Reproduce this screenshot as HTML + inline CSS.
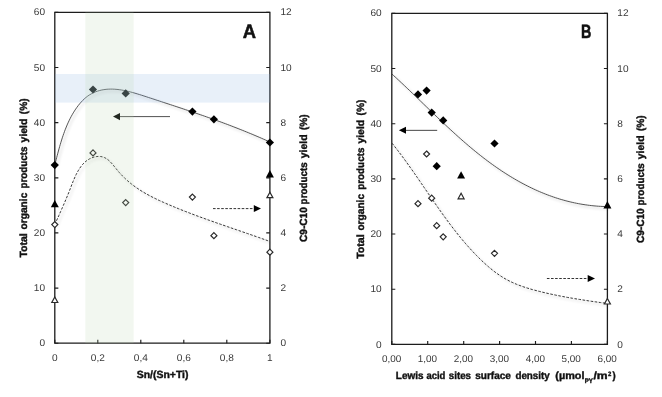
<!DOCTYPE html><html><head><meta charset="utf-8"><title>chart</title>
<style>html,body{margin:0;padding:0;background:#fff}svg{display:block;will-change:transform}text{font-family:"Liberation Sans",sans-serif;text-rendering:geometricPrecision}.t{font-size:9.8px;fill:#383838}.b{font-weight:bold;fill:#111;font-size:10.4px;stroke:#111;stroke-width:0.4px}</style></head><body>
<svg width="662" height="397" viewBox="0 0 662 397">
<defs><filter id="sh" x="-5%" y="-5%" width="110%" height="115%"><feGaussianBlur in="SourceAlpha" stdDeviation="1.6"/><feOffset dx="1.5" dy="2.4"/><feComponentTransfer><feFuncA type="linear" slope="0.24"/></feComponentTransfer><feMerge><feMergeNode/><feMergeNode in="SourceGraphic"/></feMerge></filter></defs>
<rect width="662" height="397" fill="#fff"/>
<path d="M54.8,12.3 H269.9 V343.2 H54.8 Z" fill="none" stroke="#1c1c1c" stroke-width="1.3"/>
<path d="M54.75,343.2 h3.6 M269.85,343.2 h-3.6 M54.75,288.1 h3.6 M269.85,288.1 h-3.6 M54.75,232.9 h3.6 M269.85,232.9 h-3.6 M54.75,177.8 h3.6 M269.85,177.8 h-3.6 M54.75,122.6 h3.6 M269.85,122.6 h-3.6 M54.75,67.5 h3.6 M269.85,67.5 h-3.6 M54.75,12.3 h3.6 M269.85,12.3 h-3.6 M54.8,343.2 v-3.5 M97.8,343.2 v-3.5 M140.8,343.2 v-3.5 M183.8,343.2 v-3.5 M226.8,343.2 v-3.5 M269.9,343.2 v-3.5" stroke="#1c1c1c" stroke-width="1.15" fill="none"/>
<text class="t" transform="translate(45.0,346.3) scale(1.03,1)" text-anchor="end">0</text>
<text class="t" transform="translate(280.4,346.3) scale(1.03,1)" text-anchor="start">0</text>
<text class="t" transform="translate(45.0,291.2) scale(1.03,1)" text-anchor="end">10</text>
<text class="t" transform="translate(280.4,291.2) scale(1.03,1)" text-anchor="start">2</text>
<text class="t" transform="translate(45.0,236.0) scale(1.03,1)" text-anchor="end">20</text>
<text class="t" transform="translate(280.4,236.0) scale(1.03,1)" text-anchor="start">4</text>
<text class="t" transform="translate(45.0,180.8) scale(1.03,1)" text-anchor="end">30</text>
<text class="t" transform="translate(280.4,180.8) scale(1.03,1)" text-anchor="start">6</text>
<text class="t" transform="translate(45.0,125.7) scale(1.03,1)" text-anchor="end">40</text>
<text class="t" transform="translate(280.4,125.7) scale(1.03,1)" text-anchor="start">8</text>
<text class="t" transform="translate(45.0,70.5) scale(1.03,1)" text-anchor="end">50</text>
<text class="t" transform="translate(280.4,70.5) scale(1.03,1)" text-anchor="start">10</text>
<text class="t" transform="translate(45.0,15.4) scale(1.03,1)" text-anchor="end">60</text>
<text class="t" transform="translate(280.4,15.4) scale(1.03,1)" text-anchor="start">12</text>
<text class="t" transform="translate(54.8,360.9) scale(1.03,1)" text-anchor="middle">0</text>
<text class="t" transform="translate(97.8,360.9) scale(1.03,1)" text-anchor="middle">0,2</text>
<text class="t" transform="translate(140.8,360.9) scale(1.03,1)" text-anchor="middle">0,4</text>
<text class="t" transform="translate(183.8,360.9) scale(1.03,1)" text-anchor="middle">0,6</text>
<text class="t" transform="translate(226.8,360.9) scale(1.03,1)" text-anchor="middle">0,8</text>
<text class="t" transform="translate(269.9,360.9) scale(1.03,1)" text-anchor="middle">1</text>
<text class="b" x="162.6" y="378.2" text-anchor="middle" textLength="51.8" lengthAdjust="spacingAndGlyphs">Sn/(Sn+Ti)</text>
<text class="b" transform="translate(26.9,257.6) rotate(-90)" textLength="24.4" lengthAdjust="spacingAndGlyphs">Total</text><text class="b" transform="translate(26.9,229.4) rotate(-90)" textLength="36.7" lengthAdjust="spacingAndGlyphs">organic</text><text class="b" transform="translate(26.9,188.6) rotate(-90)" textLength="42.2" lengthAdjust="spacingAndGlyphs">products</text><text class="b" transform="translate(26.9,142.4) rotate(-90)" textLength="23.8" lengthAdjust="spacingAndGlyphs">yield</text><text class="b" transform="translate(26.9,114.2) rotate(-90)" textLength="15.7" lengthAdjust="spacingAndGlyphs">(%)</text>
<text class="b" transform="translate(306.7,241.9) rotate(-90)" textLength="34.7" lengthAdjust="spacingAndGlyphs">C9-C10</text><text class="b" transform="translate(306.7,204.4) rotate(-90)" textLength="42.2" lengthAdjust="spacingAndGlyphs">products</text><text class="b" transform="translate(306.7,158.2) rotate(-90)" textLength="23.8" lengthAdjust="spacingAndGlyphs">yield</text><text class="b" transform="translate(306.7,130.0) rotate(-90)" textLength="15.7" lengthAdjust="spacingAndGlyphs">(%)</text>
<text class="b" style="font-size:19.5px;stroke-width:0.5px" x="249.4" y="37.8" text-anchor="middle" textLength="13.3" lengthAdjust="spacingAndGlyphs">A</text>
<path d="M55.00,164.00 L55.55,161.86 L56.11,159.71 L56.68,157.55 L57.25,155.38 L57.83,153.19 L58.42,151.00 L59.03,148.80 L59.65,146.60 L60.29,144.40 L60.94,142.20 L61.62,140.01 L62.32,137.82 L63.05,135.64 L63.80,133.47 L64.59,131.32 L65.40,129.18 L66.25,127.06 L67.13,124.95 L68.05,122.87 L69.00,120.82 L70.00,118.79 L71.04,116.78 L72.13,114.81 L73.26,112.88 L74.44,110.98 L75.68,109.11 L76.96,107.29 L78.30,105.51 L79.70,103.77 L81.16,102.08 L82.68,100.46 L84.27,98.91 L85.94,97.46 L87.70,96.11 L89.55,94.87 L91.46,93.76 L93.45,92.76 L95.48,91.89 L97.55,91.14 L99.64,90.52 L101.76,90.01 L103.89,89.63 L106.04,89.35 L108.20,89.18 L110.38,89.10 L112.57,89.12 L114.78,89.23 L116.99,89.42 L119.22,89.68 L121.45,90.01 L123.69,90.41 L125.93,90.87 L128.18,91.38 L130.43,91.94 L132.68,92.54 L134.94,93.18 L137.19,93.85 L139.45,94.54 L141.70,95.25 L143.94,95.97 L146.18,96.70 L148.42,97.44 L150.64,98.17 L152.86,98.89 L155.08,99.62 L157.28,100.34 L159.48,101.06 L161.67,101.78 L163.86,102.50 L166.04,103.21 L168.21,103.93 L170.38,104.64 L172.55,105.35 L174.70,106.07 L176.86,106.78 L179.01,107.49 L181.15,108.20 L183.29,108.92 L185.42,109.63 L187.56,110.35 L189.68,111.07 L191.81,111.79 L193.93,112.51 L196.05,113.23 L198.16,113.96 L200.28,114.69 L202.39,115.42 L204.49,116.15 L206.60,116.89 L208.70,117.63 L210.81,118.38 L212.91,119.13 L215.01,119.89 L217.11,120.65 L219.20,121.41 L221.30,122.18 L223.40,122.96 L225.50,123.74 L227.60,124.53 L229.69,125.33 L231.79,126.13 L233.89,126.94 L235.99,127.75 L238.09,128.58 L240.20,129.41 L242.30,130.25 L244.41,131.10 L246.51,131.95 L248.63,132.82 L250.74,133.69 L252.85,134.57 L254.97,135.47 L257.09,136.37 L259.22,137.28 L261.35,138.20 L263.48,139.14 L265.62,140.08 L267.76,141.04 L269.90,142.00" fill="none" stroke="#383838" stroke-width="0.85" filter="url(#sh)"/>
<path d="M54.80,224.50 L55.83,222.20 L56.84,219.96 L57.83,217.77 L58.80,215.62 L59.75,213.51 L60.68,211.43 L61.60,209.37 L62.51,207.32 L63.40,205.29 L64.29,203.25 L65.17,201.20 L66.04,199.14 L66.91,197.06 L67.78,194.94 L68.65,192.79 L69.52,190.59 L70.40,188.34 L71.28,186.04 L72.18,183.72 L73.12,181.39 L74.09,179.07 L75.10,176.77 L76.17,174.51 L77.31,172.31 L78.52,170.18 L79.81,168.14 L81.19,166.21 L82.67,164.40 L84.27,162.74 L85.97,161.22 L87.81,159.89 L89.77,158.74 L91.84,157.80 L93.97,157.09 L96.14,156.62 L98.31,156.42 L100.45,156.49 L102.52,156.87 L104.51,157.57 L106.37,158.58 L108.15,159.87 L109.84,161.39 L111.46,163.08 L113.05,164.91 L114.62,166.82 L116.18,168.77 L117.75,170.70 L119.36,172.58 L121.00,174.39 L122.67,176.14 L124.38,177.83 L126.12,179.46 L127.89,181.04 L129.69,182.57 L131.51,184.04 L133.37,185.47 L135.25,186.84 L137.15,188.18 L139.08,189.47 L141.03,190.72 L143.00,191.93 L144.99,193.11 L147.00,194.25 L149.03,195.36 L151.07,196.45 L153.13,197.50 L155.21,198.53 L157.30,199.54 L159.40,200.53 L161.51,201.50 L163.64,202.45 L165.77,203.39 L167.91,204.31 L170.06,205.23 L172.21,206.14 L174.37,207.03 L176.54,207.92 L178.71,208.80 L180.89,209.68 L183.07,210.54 L185.26,211.40 L187.45,212.25 L189.65,213.09 L191.85,213.93 L194.05,214.76 L196.26,215.58 L198.47,216.40 L200.69,217.21 L202.90,218.02 L205.12,218.82 L207.35,219.62 L209.57,220.41 L211.80,221.20 L214.02,221.99 L216.25,222.77 L218.48,223.55 L220.71,224.32 L222.94,225.10 L225.17,225.87 L227.40,226.64 L229.63,227.41 L231.86,228.18 L234.09,228.94 L236.32,229.71 L238.54,230.47 L240.77,231.24 L242.99,232.00 L245.21,232.77 L247.43,233.53 L249.64,234.30 L251.85,235.07 L254.06,235.84 L256.26,236.61 L258.46,237.39 L260.66,238.16 L262.85,238.94 L265.04,239.73 L267.22,240.51 L269.40,241.30" fill="none" stroke="#333" stroke-width="1" stroke-dasharray="2.6,1.5" filter="url(#sh)"/>
<path d="M170,116.6 H118" stroke="#333" stroke-width="0.85" fill="none"/><path d="M113,116.6 l7,-3.6 v7.2 z" fill="#000"/>
<path d="M213,208.6 H255" stroke="#333" stroke-width="1" stroke-dasharray="2.6,1.5" fill="none"/><path d="M261,208.6 l-7.2,-3.5 v7 z" fill="#000"/>
<path d="M54.8,161.0 L58.9,165.1 L54.8,169.2 L50.6,165.1 Z" fill="#000" stroke="#000" stroke-width="0"/>
<path d="M93.0,85.4 L97.1,89.5 L93.0,93.6 L88.9,89.5 Z" fill="#000" stroke="#000" stroke-width="0"/>
<path d="M125.7,89.3 L129.8,93.4 L125.7,97.5 L121.6,93.4 Z" fill="#000" stroke="#000" stroke-width="0"/>
<path d="M192.4,107.5 L196.5,111.6 L192.4,115.7 L188.3,111.6 Z" fill="#000" stroke="#000" stroke-width="0"/>
<path d="M213.9,115.2 L218.0,119.3 L213.9,123.4 L209.8,119.3 Z" fill="#000" stroke="#000" stroke-width="0"/>
<path d="M269.9,138.4 L274.0,142.5 L269.9,146.6 L265.8,142.5 Z" fill="#000" stroke="#000" stroke-width="0"/>
<path d="M54.8,221.6 L57.8,224.6 L54.8,227.6 L51.8,224.6 Z" fill="#fff" stroke="#2a2a2a" stroke-width="1.2"/>
<path d="M93.0,149.9 L96.0,152.9 L93.0,155.9 L90.0,152.9 Z" fill="#fff" stroke="#2a2a2a" stroke-width="1.2"/>
<path d="M125.7,199.6 L128.7,202.6 L125.7,205.6 L122.7,202.6 Z" fill="#fff" stroke="#2a2a2a" stroke-width="1.2"/>
<path d="M192.4,194.1 L195.4,197.1 L192.4,200.1 L189.4,197.1 Z" fill="#fff" stroke="#2a2a2a" stroke-width="1.2"/>
<path d="M213.9,232.7 L216.9,235.7 L213.9,238.7 L210.9,235.7 Z" fill="#fff" stroke="#2a2a2a" stroke-width="1.2"/>
<path d="M269.9,249.2 L272.9,252.2 L269.9,255.2 L266.9,252.2 Z" fill="#fff" stroke="#2a2a2a" stroke-width="1.2"/>
<path d="M54.8,199.9 L58.8,207.3 L50.8,207.3 Z" fill="#000" stroke="#000" stroke-width="0"/>
<path d="M269.9,170.1 L273.9,177.5 L265.9,177.5 Z" fill="#000" stroke="#000" stroke-width="0"/>
<path d="M54.8,297.0 L57.8,302.5 L51.8,302.5 Z" fill="#fff" stroke="#2a2a2a" stroke-width="1.2"/>
<path d="M269.9,192.2 L272.9,197.7 L266.9,197.7 Z" fill="#fff" stroke="#2a2a2a" stroke-width="1.2"/>
<rect x="55" y="74" width="215" height="28.6" fill="rgb(140,180,225)" fill-opacity="0.2"/>
<rect x="85.3" y="12.3" width="48.3" height="330.9" fill="rgb(185,210,175)" fill-opacity="0.19"/>
<path d="M391.8,13.3 H607.4 V344.4 H391.8 Z" fill="none" stroke="#1c1c1c" stroke-width="1.3"/>
<path d="M391.8,344.4 h3.5 M607.4,344.4 h-3.5 M391.8,289.2 h3.5 M607.4,289.2 h-3.5 M391.8,234.0 h3.5 M607.4,234.0 h-3.5 M391.8,178.8 h3.5 M607.4,178.8 h-3.5 M391.8,123.7 h3.5 M607.4,123.7 h-3.5 M391.8,68.5 h3.5 M607.4,68.5 h-3.5 M391.8,13.3 h3.5 M607.4,13.3 h-3.5 M391.8,344.4 v-3.5 M427.7,344.4 v-3.5 M463.7,344.4 v-3.5 M499.6,344.4 v-3.5 M535.5,344.4 v-3.5 M571.4,344.4 v-3.5 M607.4,344.4 v-3.5" stroke="#1c1c1c" stroke-width="1.15" fill="none"/>
<text class="t" transform="translate(381.7,347.5) scale(1.03,1)" text-anchor="end">0</text>
<text class="t" transform="translate(617.3,347.5) scale(1.03,1)" text-anchor="start">0</text>
<text class="t" transform="translate(381.7,292.3) scale(1.03,1)" text-anchor="end">10</text>
<text class="t" transform="translate(617.3,292.3) scale(1.03,1)" text-anchor="start">2</text>
<text class="t" transform="translate(381.7,237.1) scale(1.03,1)" text-anchor="end">20</text>
<text class="t" transform="translate(617.3,237.1) scale(1.03,1)" text-anchor="start">4</text>
<text class="t" transform="translate(381.7,181.9) scale(1.03,1)" text-anchor="end">30</text>
<text class="t" transform="translate(617.3,181.9) scale(1.03,1)" text-anchor="start">6</text>
<text class="t" transform="translate(381.7,126.8) scale(1.03,1)" text-anchor="end">40</text>
<text class="t" transform="translate(617.3,126.8) scale(1.03,1)" text-anchor="start">8</text>
<text class="t" transform="translate(381.7,71.6) scale(1.03,1)" text-anchor="end">50</text>
<text class="t" transform="translate(617.3,71.6) scale(1.03,1)" text-anchor="start">10</text>
<text class="t" transform="translate(381.7,16.4) scale(1.03,1)" text-anchor="end">60</text>
<text class="t" transform="translate(617.3,16.4) scale(1.03,1)" text-anchor="start">12</text>
<text class="t" x="391.6" y="362.2" text-anchor="middle" textLength="19.3" lengthAdjust="spacingAndGlyphs">0,00</text>
<text class="t" x="427.5" y="362.2" text-anchor="middle" textLength="19.3" lengthAdjust="spacingAndGlyphs">1,00</text>
<text class="t" x="463.5" y="362.2" text-anchor="middle" textLength="19.3" lengthAdjust="spacingAndGlyphs">2,00</text>
<text class="t" x="499.4" y="362.2" text-anchor="middle" textLength="19.3" lengthAdjust="spacingAndGlyphs">3,00</text>
<text class="t" x="535.3" y="362.2" text-anchor="middle" textLength="19.3" lengthAdjust="spacingAndGlyphs">4,00</text>
<text class="t" x="571.2" y="362.2" text-anchor="middle" textLength="19.3" lengthAdjust="spacingAndGlyphs">5,00</text>
<text class="t" x="607.1" y="362.2" text-anchor="middle" textLength="19.3" lengthAdjust="spacingAndGlyphs">6,00</text>
<text class="b" x="395.8" y="379.3" textLength="27.7" lengthAdjust="spacingAndGlyphs">Lewis</text>
<text class="b" x="426.4" y="379.3" textLength="19.0" lengthAdjust="spacingAndGlyphs">acid</text>
<text class="b" x="448.8" y="379.3" textLength="22.2" lengthAdjust="spacingAndGlyphs">sites</text>
<text class="b" x="475.2" y="379.3" textLength="35.7" lengthAdjust="spacingAndGlyphs">surface</text>
<text class="b" x="515.4" y="379.3" textLength="34.4" lengthAdjust="spacingAndGlyphs">density</text>
<text class="b" x="555.3" y="379.3" textLength="29.1" lengthAdjust="spacingAndGlyphs">(µmol</text>
<text class="b" style="font-size:6.6px" x="584.7" y="382.7" textLength="8.1" lengthAdjust="spacingAndGlyphs">PY</text>
<text class="b" x="593.4" y="379.3" textLength="14.2" lengthAdjust="spacingAndGlyphs">/m</text>
<text class="b" style="font-size:6.3px" x="608.0" y="376.2" textLength="3.3" lengthAdjust="spacingAndGlyphs">2</text>
<text class="b" x="612.4" y="379.3" textLength="3.2" lengthAdjust="spacingAndGlyphs">)</text>
<text class="b" transform="translate(363.9,258.8) rotate(-90)" textLength="24.4" lengthAdjust="spacingAndGlyphs">Total</text><text class="b" transform="translate(363.9,230.6) rotate(-90)" textLength="36.7" lengthAdjust="spacingAndGlyphs">organic</text><text class="b" transform="translate(363.9,189.8) rotate(-90)" textLength="42.2" lengthAdjust="spacingAndGlyphs">products</text><text class="b" transform="translate(363.9,143.6) rotate(-90)" textLength="23.8" lengthAdjust="spacingAndGlyphs">yield</text><text class="b" transform="translate(363.9,115.4) rotate(-90)" textLength="15.7" lengthAdjust="spacingAndGlyphs">(%)</text>
<text class="b" transform="translate(643.7,243.0) rotate(-90)" textLength="34.7" lengthAdjust="spacingAndGlyphs">C9-C10</text><text class="b" transform="translate(643.7,205.5) rotate(-90)" textLength="42.2" lengthAdjust="spacingAndGlyphs">products</text><text class="b" transform="translate(643.7,159.2) rotate(-90)" textLength="23.8" lengthAdjust="spacingAndGlyphs">yield</text><text class="b" transform="translate(643.7,131.1) rotate(-90)" textLength="15.7" lengthAdjust="spacingAndGlyphs">(%)</text>
<text class="b" style="font-size:19.2px;stroke-width:0.5px" x="580.9" y="37.9" textLength="10.4" lengthAdjust="spacingAndGlyphs">B</text>
<path d="M392.01,74.10 L393.59,75.54 L395.17,76.99 L396.75,78.45 L398.33,79.91 L399.91,81.38 L401.48,82.86 L403.06,84.34 L404.63,85.83 L406.20,87.32 L407.77,88.81 L409.34,90.31 L410.91,91.82 L412.48,93.33 L414.05,94.84 L415.62,96.35 L417.19,97.87 L418.76,99.38 L420.33,100.91 L421.91,102.43 L423.48,103.95 L425.05,105.47 L426.63,107.00 L428.21,108.52 L429.78,110.05 L431.36,111.57 L432.95,113.10 L434.53,114.62 L436.12,116.14 L437.71,117.66 L439.30,119.18 L440.89,120.69 L442.49,122.21 L444.09,123.71 L445.69,125.22 L447.30,126.72 L448.91,128.22 L450.53,129.71 L452.15,131.20 L453.77,132.69 L455.40,134.17 L457.03,135.64 L458.66,137.11 L460.30,138.57 L461.95,140.02 L463.60,141.47 L465.26,142.91 L466.92,144.34 L468.59,145.76 L470.26,147.18 L471.94,148.58 L473.63,149.98 L475.32,151.37 L477.02,152.75 L478.73,154.12 L480.44,155.48 L482.16,156.82 L483.88,158.16 L485.62,159.49 L487.36,160.80 L489.11,162.10 L490.87,163.39 L492.63,164.67 L494.40,165.93 L496.18,167.18 L497.97,168.42 L499.77,169.64 L501.57,170.85 L503.39,172.05 L505.21,173.23 L507.04,174.39 L508.87,175.54 L510.72,176.67 L512.57,177.79 L514.44,178.89 L516.31,179.98 L518.19,181.05 L520.07,182.10 L521.97,183.13 L523.87,184.14 L525.79,185.14 L527.71,186.12 L529.64,187.08 L531.58,188.02 L533.53,188.94 L535.48,189.84 L537.45,190.73 L539.42,191.59 L541.41,192.43 L543.40,193.25 L545.40,194.05 L547.41,194.82 L549.43,195.58 L551.46,196.31 L553.49,197.02 L555.54,197.71 L557.59,198.38 L559.66,199.02 L561.73,199.64 L563.82,200.23 L565.91,200.80 L568.01,201.34 L570.12,201.86 L572.24,202.36 L574.38,202.83 L576.52,203.27 L578.67,203.69 L580.83,204.08 L582.99,204.44 L585.17,204.78 L587.36,205.09 L589.56,205.37 L591.77,205.63 L593.99,205.85 L596.22,206.05 L598.45,206.22 L600.70,206.35 L602.96,206.46 L605.23,206.54 L607.51,206.59" fill="none" stroke="#383838" stroke-width="0.85" filter="url(#sh)"/>
<path d="M392.00,143.20 L393.48,145.04 L394.95,146.89 L396.41,148.75 L397.86,150.62 L399.30,152.50 L400.73,154.39 L402.15,156.28 L403.56,158.19 L404.97,160.11 L406.37,162.03 L407.77,163.96 L409.15,165.90 L410.53,167.84 L411.91,169.79 L413.28,171.74 L414.65,173.70 L416.02,175.66 L417.38,177.63 L418.74,179.60 L420.09,181.57 L421.45,183.55 L422.80,185.52 L424.16,187.50 L425.51,189.48 L426.86,191.46 L428.22,193.44 L429.57,195.42 L430.93,197.40 L432.29,199.37 L433.65,201.34 L435.02,203.32 L436.39,205.28 L437.76,207.25 L439.14,209.21 L440.52,211.17 L441.91,213.12 L443.31,215.06 L444.71,217.00 L446.12,218.93 L447.53,220.86 L448.96,222.78 L450.39,224.69 L451.83,226.59 L453.28,228.49 L454.74,230.37 L456.22,232.24 L457.70,234.11 L459.19,235.96 L460.70,237.80 L462.22,239.63 L463.75,241.45 L465.29,243.25 L466.85,245.04 L468.43,246.82 L470.02,248.59 L471.62,250.33 L473.24,252.07 L474.87,253.78 L476.53,255.49 L478.20,257.17 L479.88,258.84 L481.59,260.49 L483.31,262.12 L485.06,263.73 L486.83,265.31 L488.61,266.87 L490.42,268.39 L492.26,269.89 L494.12,271.34 L496.01,272.76 L497.92,274.14 L499.86,275.47 L501.84,276.75 L503.84,277.98 L505.87,279.16 L507.94,280.29 L510.04,281.36 L512.16,282.37 L514.32,283.33 L516.51,284.25 L518.71,285.11 L520.94,285.94 L523.19,286.73 L525.46,287.48 L527.75,288.20 L530.04,288.88 L532.35,289.55 L534.67,290.18 L537.00,290.80 L539.33,291.39 L541.67,291.97 L544.01,292.54 L546.36,293.09 L548.70,293.62 L551.05,294.14 L553.41,294.64 L555.76,295.14 L558.12,295.62 L560.48,296.08 L562.84,296.54 L565.20,296.98 L567.56,297.41 L569.92,297.83 L572.28,298.24 L574.64,298.65 L577.00,299.04 L579.36,299.42 L581.72,299.80 L584.08,300.16 L586.43,300.52 L588.79,300.88 L591.14,301.22 L593.49,301.56 L595.83,301.90 L598.17,302.23 L600.51,302.55 L602.84,302.87 L605.17,303.19 L607.50,303.50" fill="none" stroke="#333" stroke-width="1" stroke-dasharray="2.6,1.5" filter="url(#sh)"/>
<path d="M437.2,130.35 H404" stroke="#333" stroke-width="0.9" fill="none"/><path d="M398.9,130.3 l7.1,-3.5 v7 z" fill="#000"/>
<path d="M546.9,278.5 H589" stroke="#333" stroke-width="1" stroke-dasharray="2.6,1.5" fill="none"/><path d="M595,278.5 l-7.3,-3.5 v7 z" fill="#000"/>
<path d="M418.0,90.3 L422.1,94.4 L418.0,98.5 L413.9,94.4 Z" fill="#000" stroke="#000" stroke-width="0"/>
<path d="M426.6,86.5 L430.7,90.6 L426.6,94.7 L422.5,90.6 Z" fill="#000" stroke="#000" stroke-width="0"/>
<path d="M431.7,108.5 L435.8,112.6 L431.7,116.7 L427.6,112.6 Z" fill="#000" stroke="#000" stroke-width="0"/>
<path d="M443.2,116.3 L447.3,120.4 L443.2,124.5 L439.1,120.4 Z" fill="#000" stroke="#000" stroke-width="0"/>
<path d="M494.5,139.4 L498.6,143.5 L494.5,147.6 L490.4,143.5 Z" fill="#000" stroke="#000" stroke-width="0"/>
<path d="M436.7,162.1 L440.8,166.2 L436.7,170.3 L432.6,166.2 Z" fill="#000" stroke="#000" stroke-width="0"/>
<path d="M418.0,200.7 L421.0,203.7 L418.0,206.7 L415.0,203.7 Z" fill="#fff" stroke="#2a2a2a" stroke-width="1.2"/>
<path d="M426.6,151.0 L429.6,154.0 L426.6,157.0 L423.6,154.0 Z" fill="#fff" stroke="#2a2a2a" stroke-width="1.2"/>
<path d="M431.7,195.2 L434.7,198.2 L431.7,201.2 L428.7,198.2 Z" fill="#fff" stroke="#2a2a2a" stroke-width="1.2"/>
<path d="M443.2,233.8 L446.2,236.8 L443.2,239.8 L440.2,236.8 Z" fill="#fff" stroke="#2a2a2a" stroke-width="1.2"/>
<path d="M494.5,250.3 L497.5,253.3 L494.5,256.3 L491.5,253.3 Z" fill="#fff" stroke="#2a2a2a" stroke-width="1.2"/>
<path d="M436.7,222.7 L439.7,225.7 L436.7,228.7 L433.7,225.7 Z" fill="#fff" stroke="#2a2a2a" stroke-width="1.2"/>
<path d="M461.1,171.2 L465.1,178.6 L457.1,178.6 Z" fill="#000" stroke="#000" stroke-width="0"/>
<path d="M607.4,201.0 L611.4,208.4 L603.4,208.4 Z" fill="#000" stroke="#000" stroke-width="0"/>
<path d="M461.1,193.3 L464.1,198.8 L458.1,198.8 Z" fill="#fff" stroke="#2a2a2a" stroke-width="1.2"/>
<path d="M607.4,298.5 L610.4,304.0 L604.4,304.0 Z" fill="#fff" stroke="#2a2a2a" stroke-width="1.2"/>
</svg></body></html>
